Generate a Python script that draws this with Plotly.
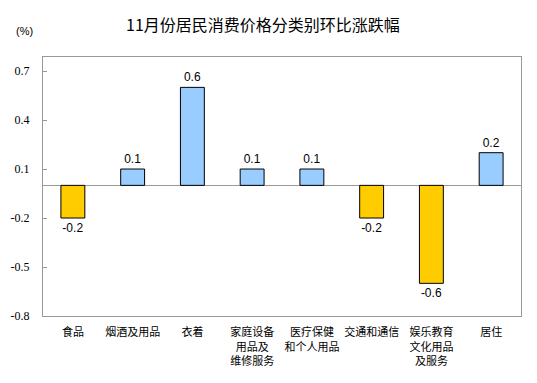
import plotly.graph_objects as go

categories = ["食品", "烟酒及用品", "衣着", "家庭设备<br>用品及<br>维修服务",
              "医疗保健<br>和个人用品", "交通和通信", "娱乐教育<br>文化用品<br>及服务", "居住"]
values = [-0.2, 0.1, 0.6, 0.1, 0.1, -0.2, -0.6, 0.2]
tick_vals = [-0.8, -0.5, -0.2, 0.1, 0.4, 0.7]
tick_text = ["-0.8", "-0.5", "-0.2", "0.1", "0.4", "0.7"]

colors = ["#FFCC00" if v < 0 else "#99CCFF" for v in values]

L, R, T, B = 43, 16, 57, 67
W, H = 537, 383
pw, ph = W - L - R, H - T - B

fig = go.Figure(go.Bar(
    x=categories, y=values,
    marker=dict(color=colors, line=dict(color="black", width=1)),
    text=[f"{v:.1f}" for v in values],
    textposition="outside",
    textfont=dict(family="Liberation Sans, Arial", size=12, color="black"),
    cliponaxis=False,
))

fig.update_layout(
    width=W, height=H,
    margin=dict(l=L, r=R, t=T, b=B, autoexpand=False),
    paper_bgcolor="white", plot_bgcolor="white",
    bargap=0.6,
    showlegend=False,
    font=dict(family="Noto Sans CJK SC", color="black"),
    title=dict(text="11月份居民消费价格分类别环比涨跌幅",
               x=263/W, xanchor="center", xref="container",
               y=1-25/H, yanchor="middle", yref="container",
               automargin=False,
               font=dict(family="Noto Sans CJK SC", size=16, color="black")),
    annotations=[dict(text="(%)", x=(24-L)/pw, y=(H-B-31)/ph, xref="paper", yref="paper",
                      showarrow=False, xanchor="center", yanchor="middle",
                      font=dict(family="Liberation Sans, Arial", size=11, color="black"))],
)

fig.update_xaxes(
    showline=True, mirror=True, linecolor="#999999", linewidth=1,
    ticks="outside", ticklen=6, tickcolor="rgba(0,0,0,0)",
    tickfont=dict(family="Noto Sans CJK SC", size=11, color="black"),
    showgrid=False, fixedrange=True, automargin=False,
)
fig.update_yaxes(
    range=[-0.8, 0.786],
    tickvals=tick_vals, ticktext=tick_text,
    showline=True, mirror=True, linecolor="#999999", linewidth=1,
    ticks="inside", ticklen=4, tickcolor="#999999",
    tickfont=dict(family="Liberation Serif, Times New Roman", size=12, color="black"),
    showgrid=False, zeroline=True, zerolinecolor="#999999", zerolinewidth=1,
    ticklabelstandoff=10, automargin=False, fixedrange=True,
)

fig.write_html("out.html",
               config={"displayModeBar": False, "staticPlot": True},
               post_script="document.body.style.margin='0';document.body.style.overflow='hidden';")
